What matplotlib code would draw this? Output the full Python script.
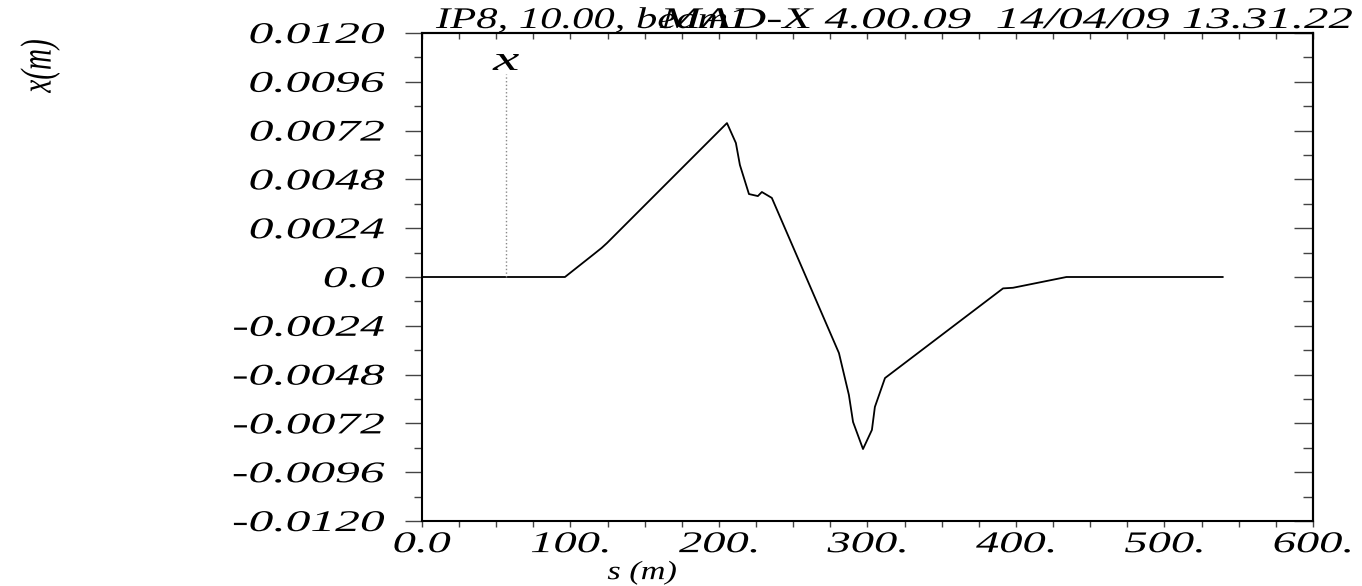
import matplotlib
matplotlib.use("Agg")
import matplotlib.pyplot as plt
from matplotlib.patheffects import AbstractPathEffect
from matplotlib.transforms import Affine2D
from matplotlib.ticker import MultipleLocator, NullFormatter

# horizontal closed orbit around IP8
s_pos = [0.0, 96.3, 115.0, 121.0, 124.6, 205.4, 211.4, 214.1, 220.2, 226.2,
         228.9, 235.6, 280.8, 287.5, 290.3, 297.0, 303.0, 305.0, 311.8,
         391.3, 398.0, 434.0, 539.2]
x_orbit = [0.0, 0.0, 0.00108, 0.00143, 0.00167, 0.00757, 0.00659, 0.00551,
           0.00408, 0.00398, 0.00418, 0.00389, -0.00374, -0.0058, -0.00713,
           -0.00846, -0.00752, -0.00639, -0.00497, -0.00056, -0.00053, 0.0, 0.0]

y_ticks = [0.012, 0.0096, 0.0072, 0.0048, 0.0024, 0.0,
           -0.0024, -0.0048, -0.0072, -0.0096, -0.012]
y_tick_labels = ["0.0120", "0.0096", "0.0072", "0.0048", "0.0024", "0.0",
                 "-0.0024", "-0.0048", "-0.0072", "-0.0096", "-0.0120"]
x_ticks = [0, 100, 200, 300, 400, 500, 600]
x_tick_labels = ["0.0", "100.", "200.", "300.", "400.", "500.", "600."]

title_left = "IP8, 10.00, beam1"
title_right = "MAD-X 4.00.09  14/04/09 13.31.22"

# legend marker for the x curve
legend_s = 56.6
legend_top = 0.0100

plt.rcParams["font.family"] = ["Liberation Serif", "DejaVu Serif"]
plt.rcParams["font.style"] = "italic"


class Stretch(AbstractPathEffect):
    # widen the glyphs sideways, the old MAD output looks stretched
    def __init__(self, sx, anchor="left"):
        super().__init__()
        self.sx = sx
        self.anchor = anchor

    def draw_path(self, renderer, gc, tpath, affine, rgbFace=None):
        ext = tpath.get_extents(affine)
        if self.anchor == "right":
            x0 = ext.x1
        elif self.anchor == "center":
            x0 = (ext.x0 + ext.x1) / 2
        else:
            x0 = ext.x0
        aff = affine + Affine2D().translate(-x0, 0).scale(self.sx, 1).translate(x0, 0)
        renderer.draw_path(gc, tpath, aff, rgbFace)


fig = plt.figure(figsize=(13.62, 5.86), dpi=100)
ax = fig.add_axes([0.3098, 0.1109, 0.6542, 0.8328])

ax.plot(s_pos, x_orbit, color="black", linewidth=1.3)
ax.plot([legend_s, legend_s], [0, legend_top], color="#888888",
        linestyle=":", linewidth=1)
ax.text(legend_s, legend_top + 0.0006, "x", ha="center", va="center",
        fontsize=25, path_effects=[Stretch(1.7, "center")])

ax.set_xlim(0, 600)
ax.set_ylim(-0.012, 0.012)

for sp in ax.spines.values():
    sp.set_linewidth(1.5)
    sp.set_color("black")

ax.set_yticks(y_ticks, y_tick_labels)
ax.yaxis.set_minor_locator(MultipleLocator(0.0012))
ax.tick_params(axis="y", which="major", direction="out", length=12, width=1,
               color="#444444", pad=15, labelsize=21.6, right=False)
ax.tick_params(axis="y", which="minor", direction="out", length=6, width=1,
               color="#444444", right=False)

ax.set_xticks(x_ticks, x_tick_labels)
ax.xaxis.set_minor_locator(MultipleLocator(25))
ax.tick_params(axis="x", which="both", direction="out", length=4, width=1,
               color="#444444", pad=4, labelsize=21.6, top=False)

# inward ticks on the right and top frame
ax_r = ax.secondary_yaxis("right")
ax_r.set_yticks(y_ticks)
ax_r.yaxis.set_minor_locator(MultipleLocator(0.0012))
ax_r.yaxis.set_major_formatter(NullFormatter())
ax_r.tick_params(which="major", direction="in", length=14, width=1, color="#444444")
ax_r.tick_params(which="minor", direction="in", length=7, width=1, color="#444444")
ax_r.spines["right"].set_linewidth(1.5)

ax_t = ax.secondary_xaxis("top")
ax_t.xaxis.set_major_locator(MultipleLocator(25))
ax_t.xaxis.set_major_formatter(NullFormatter())
ax_t.tick_params(which="major", direction="in", length=4, width=1, color="#444444")
ax_t.spines["top"].set_linewidth(1.5)

for lbl in ax.get_yticklabels():
    lbl.set_path_effects([Stretch(1.65, "right")])
for lbl in ax.get_xticklabels():
    lbl.set_path_effects([Stretch(1.55, "center")])

fig.text(642 / 1362, (586 - 573) / 586, "s (m)", ha="center", va="center",
         fontsize=19, path_effects=[Stretch(1.3, "center")])
fig.text(40 / 1362, (586 - 66) / 586, "x(m)", ha="center", va="center",
         rotation=90, fontsize=21, path_effects=[Stretch(1.5, "center")])

fig.text(436 / 1362, (586 - 28) / 586, title_left, ha="left", va="baseline",
         fontsize=21.6, path_effects=[Stretch(1.42)])
fig.text(660 / 1362, (586 - 28) / 586, title_right, ha="left", va="baseline",
         fontsize=21.6, path_effects=[Stretch(1.63)])

fig.savefig("out.png", dpi=100)
